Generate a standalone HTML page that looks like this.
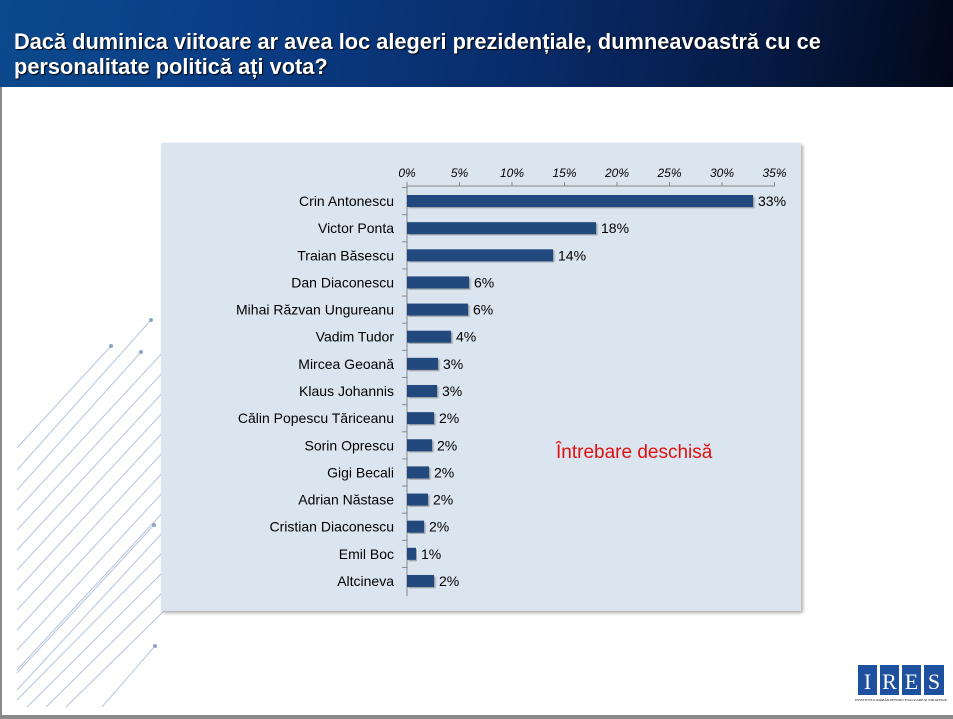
<!DOCTYPE html>
<html><head><meta charset="utf-8"><style>
body{margin:0;width:953px;height:719px;background:#fff;position:relative;overflow:hidden;font-family:"Liberation Sans",sans-serif}
#hdr{position:absolute;left:0;top:0;width:953px;height:87px;background:linear-gradient(100deg,#0b4a8c 0%,#0a3d86 25%,#082c6a 55%,#061a45 80%,#020818 100%)}
#hdr div{position:absolute;left:14px;top:29px;color:#fff;font-weight:bold;font-size:21.8px;line-height:25px;text-shadow:1px 1px 1px #000;white-space:nowrap}
</style></head><body>
<div id="hdr"><div>Dacă duminica viitoare ar avea loc alegeri prezidențiale, dumneavoastră cu ce<br>personalitate politică ați vota?</div></div>
<div style="position:absolute;left:0;top:87px;width:2px;height:632px;background:#8a8a8a"></div>
<div style="position:absolute;left:0;top:715px;width:953px;height:4px;background:#8a8a8a"></div>
<svg width="953" height="719" style="position:absolute;left:0;top:0">
<defs><filter id="sh"><feDropShadow dx="2" dy="2" stdDeviation="1.5" flood-color="#777" flood-opacity="0.6"/></filter>
<filter id="bs"><feDropShadow dx="1.5" dy="1.5" stdDeviation="0.8" flood-color="#555" flood-opacity="0.5"/></filter></defs>
<g stroke="#b5c4dc" stroke-width="1">
<line x1="17" y1="448" x2="111" y2="346"/><line x1="17" y1="470" x2="151" y2="320"/><line x1="17" y1="490" x2="141" y2="352"/>
<line x1="17" y1="510" x2="165" y2="350"/><line x1="17" y1="530" x2="165" y2="370"/><line x1="17" y1="550" x2="165" y2="390"/>
<line x1="17" y1="570" x2="165" y2="410"/><line x1="17" y1="590" x2="165" y2="430"/><line x1="17" y1="610" x2="165" y2="450"/>
<line x1="17" y1="630" x2="165" y2="470"/><line x1="17" y1="650" x2="165" y2="490"/><line x1="17" y1="670" x2="165" y2="510"/>
<line x1="17" y1="690" x2="165" y2="530"/><line x1="17" y1="700" x2="165" y2="550"/><line x1="27" y1="707" x2="165" y2="570"/>
<line x1="46" y1="707" x2="165" y2="590"/><line x1="66" y1="707" x2="165" y2="610"/><line x1="17" y1="673" x2="154" y2="525"/>
<line x1="102" y1="707" x2="155" y2="646"/>
</g>
<g fill="#8fa3c8"><circle cx="151" cy="320" r="2"/><circle cx="111" cy="346" r="2"/><circle cx="141" cy="352" r="2"/><circle cx="154" cy="525" r="2"/><circle cx="155" cy="646" r="2"/></g>
<rect x="161" y="143" width="640" height="468" fill="#dbe5f0" filter="url(#sh)"/>
<g font-family="Liberation Sans" font-size="12" font-style="italic" fill="#000" text-anchor="middle">
<text x="407" y="177">0%</text><text x="459.5" y="177">5%</text><text x="512" y="177">10%</text><text x="564.5" y="177">15%</text><text x="617" y="177">20%</text><text x="669.5" y="177">25%</text><text x="722" y="177">30%</text><text x="774.5" y="177">35%</text>
</g>
<g stroke="#888" stroke-width="1">
<line x1="407" y1="186" x2="775" y2="186"/>
<line x1="407" y1="182" x2="407" y2="596"/>
<line x1="459.5" y1="182" x2="459.5" y2="186"/><line x1="512" y1="182" x2="512" y2="186"/><line x1="564.5" y1="182" x2="564.5" y2="186"/><line x1="617" y1="182" x2="617" y2="186"/><line x1="669.5" y1="182" x2="669.5" y2="186"/><line x1="722" y1="182" x2="722" y2="186"/><line x1="774.5" y1="182" x2="774.5" y2="186"/>
</g>
<g id="bars" font-family="Liberation Sans" font-size="14" fill="#000"></g>
<text x="556" y="458" font-family="Liberation Sans" font-size="19" fill="#e01010">Întrebare deschisă</text>
<rect x="858" y="665" width="86" height="30" fill="#fff"/>
<g fill="#1e50a0"><rect x="858" y="665" width="19" height="30"/><rect x="880" y="665" width="19" height="30"/><rect x="902" y="665" width="19" height="30"/><rect x="924" y="665" width="20" height="30"/></g>
<g fill="#fff" font-family="Liberation Serif" font-size="22" text-anchor="middle"><text x="867.5" y="689">I</text><text x="889.5" y="689">R</text><text x="911.5" y="689">E</text><text x="934" y="689">S</text></g>
<text x="901" y="701" font-family="Liberation Serif" font-size="3.5" text-anchor="middle" fill="#000">INSTITUTUL ROMÂN PENTRU EVALUARE ŞI STRATEGIE</text>
</svg>
<script>
var d=[["Crin Antonescu",33,753],["Victor Ponta",18,596],["Traian Băsescu",14,553],["Dan Diaconescu",6,469],["Mihai Răzvan Ungureanu",6,468],["Vadim Tudor",4,451],["Mircea Geoană",3,438],["Klaus Johannis",3,437],["Călin Popescu Tăriceanu",2,434],["Sorin Oprescu",2,432],["Gigi Becali",2,429],["Adrian Năstase",2,428],["Cristian Diaconescu",2,424],["Emil Boc",1,416],["Altcineva",2,434]];
var g=document.getElementById('bars'),s='';
d.forEach(function(r,i){var y=201+i*27.14;
s+='<line x1="402" y1="'+(y-13.5)+'" x2="407" y2="'+(y-13.5)+'" stroke="#888"/>';
s+='<rect x="407" y="'+(y-6)+'" width="'+(r[2]-407)+'" height="12" fill="#224a7e" filter="url(#bs)"/>';
s+='<text x="394" y="'+(y+5)+'" text-anchor="end">'+r[0]+'</text>';
s+='<text x="'+(r[2]+5)+'" y="'+(y+5)+'">'+r[1]+'%</text>';});
g.innerHTML=s;
</script>
</body></html>
